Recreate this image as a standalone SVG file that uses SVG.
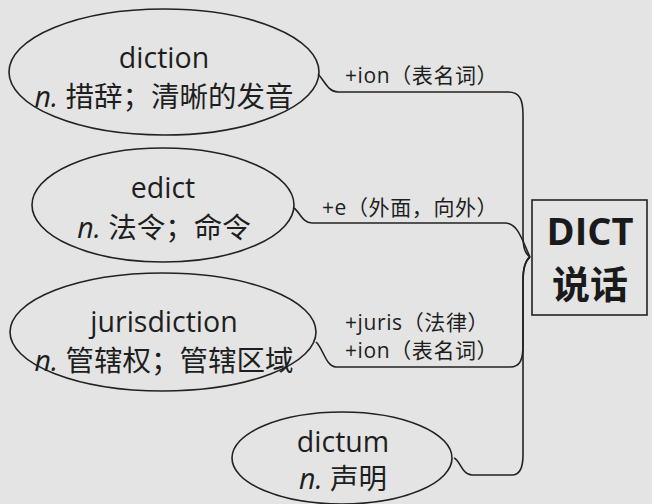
<svg xmlns="http://www.w3.org/2000/svg" width="652" height="504" viewBox="0 0 652 504">
<style>
.bg{fill:#e4e4e4}
.node{fill:none;stroke:#222;stroke-width:1.6}
.conn{fill:none;stroke:#222;stroke-width:1.6}
.t{font-family:"Open Sans","Noto Sans CJK SC",sans-serif;font-size:28.5px;fill:#1e1e1e;text-anchor:middle}
.lbl{font-family:"Open Sans","Noto Sans CJK SC",sans-serif;font-size:21px;letter-spacing:0.6px;fill:#1e1e1e}
.it{font-style:italic}
.big{font-family:"Open Sans","Noto Sans CJK SC",sans-serif;font-size:38px;font-weight:bold;fill:#1a1a1a;text-anchor:middle}
</style>
<rect class="bg" x="0" y="0" width="652" height="504"/>
<g id="connectors">
<path class="conn" d="M318,74 C324,80 328,92 338,92 L508,92 C520,92 523,100 523,115 L523,235 C523,250 526,254 530,257"/>
<path class="conn" d="M294,208 C300,212 302,223 312,223 L505,223 C518,223 522,240 530,257"/>
<path class="conn" d="M316,342 C323,348 326,367 336,367 L510,367 C520,367 523,360 523,345 L523,280 C523,266 526,260 530,257"/>
<path class="conn" d="M454,458 C460,460 462,475 472,475 L512,475 C520,475 523,468 523,455 L523,282 C523,266 526,260 530,257"/>
</g>
<g id="node-diction">
<ellipse class="node" cx="164" cy="72" rx="155" ry="63"/>
<text class="t" x="164" y="68">diction</text>
<text class="t" x="164" y="107"><tspan class="it">n.</tspan> 措辞；清晰的发音</text>
</g>
<g id="node-edict">
<ellipse class="node" cx="163" cy="205" rx="131" ry="57"/>
<text class="t" x="163" y="198">edict</text>
<text class="t" x="164" y="238"><tspan class="it">n.</tspan> 法令；命令</text>
</g>
<g id="node-jurisdiction">
<ellipse class="node" cx="163" cy="332" rx="153" ry="59"/>
<text class="t" x="164" y="332">jurisdiction</text>
<text class="t" x="164" y="371"><tspan class="it">n.</tspan> 管辖权；管辖区域</text>
</g>
<g id="node-dictum">
<ellipse class="node" cx="342" cy="458" rx="110" ry="46"/>
<text class="t" x="343" y="452">dictum</text>
<text class="t" x="343" y="489"><tspan class="it">n.</tspan> 声明</text>
</g>
<g id="node-DICT">
<rect class="node" x="532" y="200" width="115" height="115"/>
<text class="big" x="590" y="245">DICT</text>
<text class="big" x="590" y="298">说话</text>
</g>
<g id="labels">
<text class="lbl" x="345" y="83">+ion（表名词）</text>
<text class="lbl" x="322" y="215">+e（外面，向外）</text>
<text class="lbl" x="345" y="330">+juris（法律）</text>
<text class="lbl" x="345" y="358">+ion（表名词）</text>
</g>
</svg>
